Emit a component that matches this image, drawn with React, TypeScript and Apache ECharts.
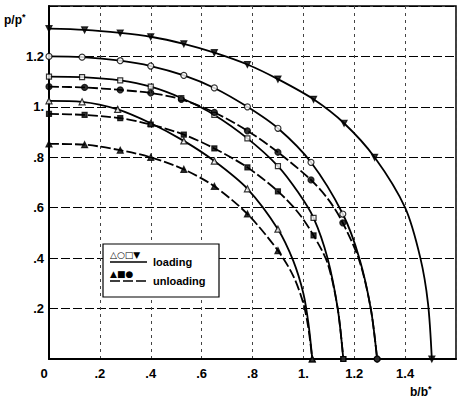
import React, { useEffect, useRef } from "react";
import * as echarts from "echarts";

// tick labels
const xTickLabels = ["0", ".2", ".4", ".6", ".8", "1.", "1.2", "1.4", ""];
const yTickLabels = ["", ".2", ".4", ".6", ".8", "1.", "1.2", ""];

// [b/b*, p/p*] marker points and extra (unmarked) curve points
const markA = [[0, 1.31], [0.14, 1.305], [0.28, 1.293], [0.4, 1.278], [0.53, 1.25], [0.65, 1.215], [0.78, 1.168], [0.9, 1.11], [1.04, 1.03], [1.16, 0.935], [1.28, 0.8], [1.505, 0]];
const tailA = [[1.4, 0.6], [1.46, 0.4], [1.49, 0.22]];
const markB = [[0, 1.2], [0.13, 1.197], [0.28, 1.183], [0.4, 1.162], [0.53, 1.125], [0.65, 1.075], [0.78, 1.0], [0.9, 0.915], [1.03, 0.78], [1.155, 0.575], [1.29, 0]];
const tailB = [[1.22, 0.4], [1.265, 0.2]];
const markC = [[0, 1.12], [0.13, 1.118], [0.28, 1.105], [0.4, 1.08], [0.52, 1.035], [0.65, 0.968], [0.78, 0.875], [0.9, 0.765], [1.04, 0.56], [1.157, 0]];
const tailC = [[0.98, 0.66], [1.095, 0.4], [1.135, 0.2]];
const markD = [[0, 1.08], [0.14, 1.077], [0.28, 1.067], [0.4, 1.055], [0.52, 1.03], [0.65, 0.978], [0.78, 0.905], [0.9, 0.82], [1.03, 0.71], [1.155, 0.54], [1.29, 0]];
const tailD = [[1.1, 0.63], [1.22, 0.39], [1.265, 0.2]];
const markE = [[0, 1.024], [0.13, 1.02], [0.27, 0.99], [0.4, 0.935], [0.53, 0.865], [0.65, 0.785], [0.78, 0.675], [0.9, 0.515], [1.035, 0]];
const tailE = [[0.96, 0.39], [1.0, 0.26], [1.02, 0.14]];
const markF = [[0, 0.972], [0.14, 0.968], [0.28, 0.955], [0.4, 0.93], [0.53, 0.89], [0.65, 0.835], [0.78, 0.76], [0.9, 0.665], [1.04, 0.49], [1.157, 0]];
const tailF = [[0.98, 0.58], [1.095, 0.38], [1.135, 0.2]];
const markG = [[0, 0.853], [0.14, 0.85], [0.28, 0.828], [0.4, 0.8], [0.53, 0.752], [0.65, 0.685], [0.78, 0.575], [0.9, 0.43], [1.035, 0]];
const tailG = [[0.96, 0.33], [1.0, 0.22], [1.02, 0.12]];

const FONT = '"Liberation Sans Narrow", "Liberation Sans", Arial, sans-serif';

type Curve = { marks: number[][]; tail: number[][]; symbol: string; rotate: number; filled: boolean; dashed: boolean };

const curves: Curve[] = [
  { marks: markA, tail: tailA, symbol: "triangle", rotate: 180, filled: true, dashed: false },
  { marks: markB, tail: tailB, symbol: "circle", rotate: 0, filled: false, dashed: false },
  { marks: markC, tail: tailC, symbol: "rect", rotate: 0, filled: false, dashed: false },
  { marks: markD, tail: tailD, symbol: "circle", rotate: 0, filled: true, dashed: true },
  { marks: markE, tail: tailE, symbol: "triangle", rotate: 0, filled: false, dashed: false },
  { marks: markF, tail: tailF, symbol: "rect", rotate: 0, filled: true, dashed: true },
  { marks: markG, tail: tailG, symbol: "triangle", rotate: 0, filled: true, dashed: true },
];

export default function App() {
  const ref = useRef<HTMLDivElement>(null);
  useEffect(() => {
    if (!ref.current) return;
    const chart = echarts.init(ref.current, null, { renderer: "svg" });
    const series: any[] = [];
    curves.forEach((c) => {
      const line = [...c.marks, ...c.tail].sort((a, b) => a[0] - b[0]);
      series.push({
        type: "line",
        data: line,
        smooth: 0.3,
        showSymbol: false,
        lineStyle: { color: "#000", width: 1.8, type: c.dashed ? [10, 3] : "solid" },
        z: 3,
        silent: true,
      });
      series.push({
        type: "scatter",
        data: c.marks,
        symbol: c.symbol,
        symbolRotate: c.rotate,
        symbolSize: c.symbol === "rect" ? 5 : 6,
        itemStyle: { color: c.filled ? "#000" : "#fff", borderColor: "#000", borderWidth: 1.2 },
        z: 4,
        silent: true,
      });
    });
    chart.setOption({
      animation: false,
      backgroundColor: "#fff",
      grid: { left: 49, right: 1, top: 6, bottom: 43, show: true, borderColor: "#000", borderWidth: 1.5 },
      xAxis: {
        type: "value",
        min: 0,
        max: 1.6,
        interval: 0.2,
        axisLine: { show: true, onZero: false, lineStyle: { color: "#000", width: 2 } },
        axisTick: { show: false },
        axisLabel: {
          margin: 8,
          color: "#000",
          fontFamily: FONT,
          fontWeight: "bold",
          fontSize: 13,
          formatter: (v: number) => {
            const i = Math.round(v / 0.2);
            return i === 0 ? "{z|0}" : xTickLabels[i];
          },
          rich: { z: { padding: [0, 10, 0, 0], fontFamily: FONT, fontWeight: "bold", fontSize: 13, color: "#000" } },
        },
        splitLine: { show: true, lineStyle: { color: "#444", width: 1, type: [3, 4] } },
      },
      yAxis: {
        type: "value",
        min: 0,
        max: 1.4,
        interval: 0.2,
        axisLine: { show: true, onZero: false, lineStyle: { color: "#000", width: 2 } },
        axisTick: { show: false },
        axisLabel: {
          margin: 5,
          color: "#000",
          fontFamily: FONT,
          fontWeight: "bold",
          fontSize: 13,
          formatter: (v: number) => yTickLabels[Math.round(v / 0.2)],
        },
        splitLine: { show: true, lineStyle: { color: "#000", width: 1, type: [9, 3] } },
      },
      graphic: [
        {
          type: "text",
          x: 4,
          y: 12,
          style: {
            text: "{a|p/p}{s|*}",
            rich: {
              a: { fontFamily: FONT, fontWeight: "bold", fontSize: 12, fill: "#000" },
              s: { fontFamily: FONT, fontWeight: "bold", fontSize: 9, fill: "#000", verticalAlign: "top", padding: [0, 0, 6, 0] },
            },
          },
        },
        {
          type: "text",
          x: 410,
          y: 384,
          style: {
            text: "{a|b/b}{s|*}",
            rich: {
              a: { fontFamily: FONT, fontWeight: "bold", fontSize: 12, fill: "#000" },
              s: { fontFamily: FONT, fontWeight: "bold", fontSize: 9, fill: "#000", verticalAlign: "top", padding: [0, 0, 6, 0] },
            },
          },
        },
        {
          type: "rect",
          z: 10,
          shape: { x: 103, y: 244, width: 116, height: 53 },
          style: { fill: "#fff", stroke: "#000", lineWidth: 1.2 },
        },
        {
          type: "text",
          z: 11,
          x: 110,
          y: 250,
          style: { text: "△○□▼", fontSize: 9, fontFamily: "DejaVu Sans", fill: "#000" },
        },
        { type: "line", z: 11, shape: { x1: 110, y1: 262, x2: 147, y2: 262 }, style: { stroke: "#000", lineWidth: 1.5 } },
        {
          type: "text",
          z: 11,
          x: 153,
          y: 256,
          style: { text: "loading", fontSize: 11, fontWeight: "bold", fontFamily: FONT, fill: "#000" },
        },
        {
          type: "text",
          z: 11,
          x: 110,
          y: 269,
          style: { text: "▲■●", fontSize: 9, fontFamily: "DejaVu Sans", fill: "#000" },
        },
        { type: "line", z: 11, shape: { x1: 110, y1: 281, x2: 147, y2: 281 }, style: { stroke: "#000", lineWidth: 1.5, lineDash: [10, 3] } },
        {
          type: "text",
          z: 11,
          x: 153,
          y: 275,
          style: { text: "unloading", fontSize: 11, fontWeight: "bold", fontFamily: FONT, fill: "#000" },
        },
      ],
      series,
    });
    return () => chart.dispose();
  }, []);
  return <div ref={ref} style={{ position: "absolute", left: 0, top: 0, width: 459, height: 402 }} />;
}
